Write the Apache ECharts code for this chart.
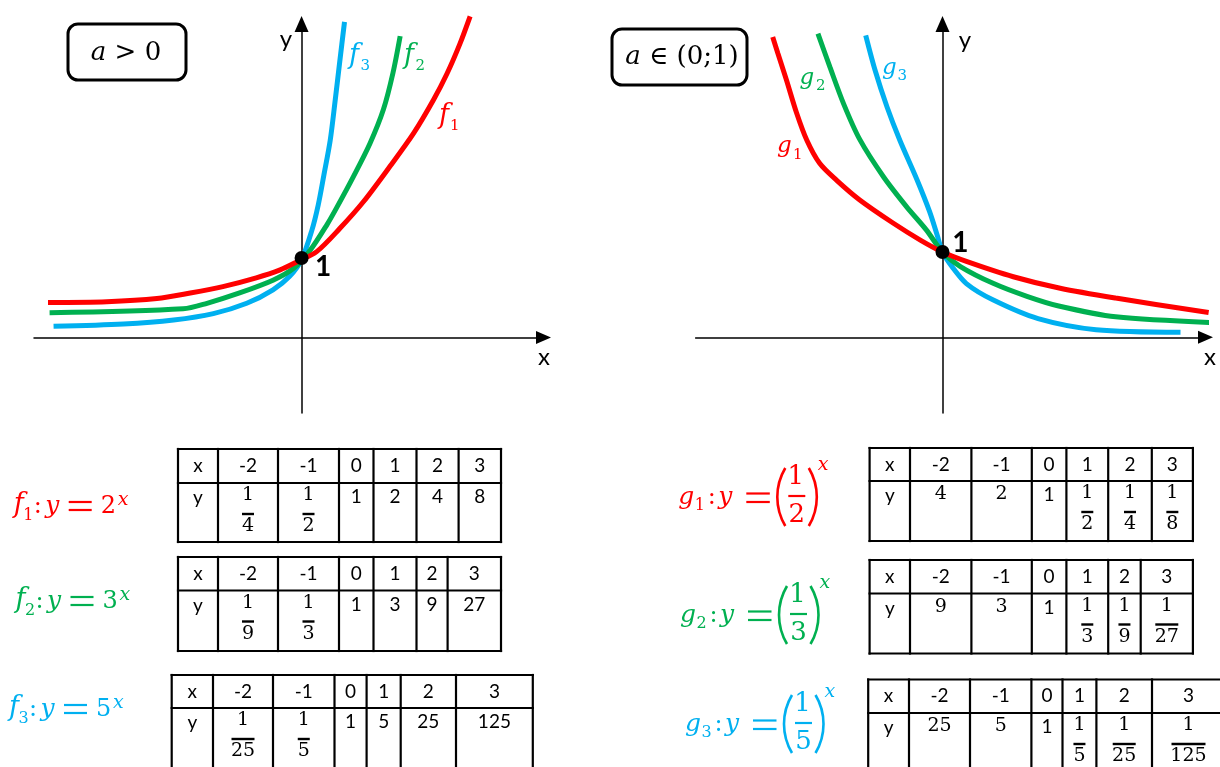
<!DOCTYPE html>
<html>
<head>
<meta charset="utf-8">
<title>Exponential functions</title>
<script src="https://cdn.jsdelivr.net/npm/echarts@6/dist/echarts.min.js"></script>
<style>
  html, body { margin: 0; padding: 0; background: #fff; }
  #main { width: 1220px; height: 767px; }
</style>
</head>
<body>
<div id="main"></div>
<script>
var RED = '#ff0000'
var GREEN = '#00b050'
var BLUE = '#00b0f0'
var MATH = 'DejaVu Serif'

// table values
var xHeader = ['-2', '-1', '0', '1', '2', '3']
var f1Values = ['1/4', '1/2', '1', '2', '4', '8']
var f2Values = ['1/9', '1/3', '1', '3', '9', '27']
var f3Values = ['1/25', '1/5', '1', '5', '25', '125']
var g1Values = ['4', '2', '1', '1/2', '1/4', '1/8']
var g2Values = ['9', '3', '1', '1/3', '1/9', '1/27']
var g3Values = ['25', '5', '1', '1/5', '1/25', '1/125']

// curves as they are drawn (unit = height of the point (0; 1))
var f1Curve = [[-3.19, 0.44], [-2.45, 0.45], [-1.82, 0.49], [-1.40, 0.56], [-0.99, 0.64], [-0.57, 0.75], [-0.27, 0.85], [-0.06, 0.95], [0.19, 1.08], [0.48, 1.37], [0.78, 1.71], [1.11, 2.15], [1.41, 2.57], [1.66, 2.99], [1.83, 3.32], [1.99, 3.69], [2.12, 4.04]]
var f2Curve = [[-3.17, 0.31], [-1.49, 0.36], [-1.19, 0.43], [-0.78, 0.56], [-0.36, 0.72], [-0.10, 0.87], [0.11, 1.10], [0.32, 1.42], [0.44, 1.63], [0.65, 2.02], [0.86, 2.44], [1.03, 2.87], [1.15, 3.33], [1.24, 3.79]]
var f3Curve = [[-3.12, 0.14], [-2.24, 0.17], [-1.61, 0.22], [-1.11, 0.30], [-0.69, 0.43], [-0.36, 0.60], [-0.15, 0.77], [0, 0.98], [0.13, 1.35], [0.21, 1.67], [0.28, 2.04], [0.36, 2.48], [0.42, 2.96], [0.48, 3.47], [0.54, 3.97]]
var g1Curve = [[-1.99, 3.52], [-1.93, 3.33], [-1.83, 3.02], [-1.71, 2.63], [-1.59, 2.31], [-1.44, 2.04], [-1.24, 1.84], [-0.97, 1.61], [-0.58, 1.34], [-0.26, 1.14], [0, 1], [0.28, 0.89], [0.83, 0.71], [1.38, 0.575], [2.03, 0.46], [3.12, 0.29]]
var g2Curve = [[-1.46, 3.56], [-1.32, 3.17], [-1.16, 2.74], [-0.97, 2.32], [-0.69, 1.88], [-0.42, 1.53], [-0.19, 1.26], [0, 1], [0.21, 0.83], [0.60, 0.63], [0.99, 0.48], [1.35, 0.37], [2.03, 0.24], [3.25, 0.17]]
var g3Curve = [[-0.90, 3.54], [-0.79, 3.13], [-0.65, 2.70], [-0.50, 2.31], [-0.30, 1.85], [-0.15, 1.47], [-0.06, 1.19], [0, 1], [0.11, 0.83], [0.28, 0.63], [0.59, 0.44], [1.12, 0.22], [1.80, 0.09], [2.79, 0.06]]
var commonPoint = [[0, 1]]

// where the tables sit on the page
var tableLayout = {
  f1: { cols: [178, 218, 278, 339, 373.5, 416.5, 458.6, 501], rows: [449, 483, 542] },
  f2: { cols: [178, 218, 278, 339, 373.5, 416.5, 447.6, 501], rows: [557, 590.5, 651] },
  f3: { cols: [171.7, 213, 273, 334.5, 366.6, 400.7, 456, 532.8], rows: [675, 708, 775] },
  g1: { cols: [869.6, 910, 971.4, 1031.8, 1066.4, 1108.2, 1151.8, 1192.9], rows: [448, 481, 541] },
  g2: { cols: [869.6, 910, 971.4, 1031.8, 1066.4, 1108.2, 1140.7, 1192.9], rows: [560, 593.5, 653.5] },
  g3: { cols: [868.2, 909, 970, 1031.4, 1062.5, 1096.4, 1152, 1225], rows: [679.5, 713, 775] }
}

function txt (x, y, s, size, o) {
  o = o || {}
  return {
    type: 'text',
    x: x,
    y: y,
    silent: true,
    style: {
      text: s,
      fontSize: size,
      fontFamily: o.family || MATH,
      fontStyle: o.italic ? 'italic' : 'normal',
      fontWeight: o.bold ? 'bold' : 'normal',
      fill: o.color || '#000',
      align: o.align || 'left',
      verticalAlign: 'middle'
    }
  }
}

// y is the baseline
function onBase (x, base, s, size, o) {
  return txt(x, base - 0.36 * size, s, size, o)
}

function seg (x1, y1, x2, y2, w, color, cap) {
  return {
    type: 'line',
    silent: true,
    shape: { x1: x1, y1: y1, x2: x2, y2: y2 },
    style: { stroke: color || '#000', lineWidth: w || 2, lineCap: cap || 'square' }
  }
}

function paren (xMid, cy, h, sag, side, color) {
  var r = ((h / 2) * (h / 2) + sag * sag) / (2 * sag)
  var a = Math.asin(h / 2 / r)
  var left = side === 'left'
  return {
    type: 'arc',
    silent: true,
    shape: {
      cx: left ? xMid + r : xMid - r,
      cy: cy,
      r: r,
      startAngle: left ? Math.PI - a : -a,
      endAngle: left ? Math.PI + a : a,
      clockwise: true
    },
    style: { stroke: color, lineWidth: 2.6, fill: null }
  }
}

function fFormula (x0, b, idx, digit, color) {
  var it = { italic: true, color: color }
  var up = { color: color }
  return [
    onBase(x0 + 2, b, 'f', 27, it),
    onBase(x0 + 11.5, b + 6.5, idx, 16, up),
    onBase(x0 + 22, b, ':', 24, up),
    onBase(x0 + 33.5, b, 'y', 25, it),
    seg(x0 + 57, b - 13, x0 + 80, b - 13, 2.2, color, 'butt'),
    seg(x0 + 57, b - 5, x0 + 80, b - 5, 2.2, color, 'butt'),
    onBase(x0 + 89, b, digit, 24, up),
    onBase(x0 + 106, b - 8.5, 'x', 19, it)
  ]
}

function gFormula (x0, B, idx, den, color) {
  var it = { italic: true, color: color }
  var up = { color: color }
  var b = B + 10
  return [
    onBase(x0, b, 'g', 25, it),
    onBase(x0 + 16.5, b + 5.5, idx, 16, up),
    onBase(x0 + 29.5, b, ':', 24, up),
    onBase(x0 + 40, b, 'y', 25, it),
    seg(x0 + 68, b - 12.5, x0 + 91.5, b - 12.5, 2.2, color, 'butt'),
    seg(x0 + 68, b - 4, x0 + 91.5, b - 4, 2.2, color, 'butt'),
    paren(x0 + 99, B + 1, 58, 8, 'left', color),
    txt(x0 + 117.5, B - 18.5, '1', 26, { align: 'center', color: color }),
    seg(x0 + 110, B, x0 + 127, B, 2.2, color, 'butt'),
    txt(x0 + 118.5, B + 19, den, 26, { align: 'center', color: color }),
    paren(x0 + 138.5, B + 1, 58, 8, 'right', color),
    onBase(x0 + 139.5, B - 24.5, 'x', 19, it)
  ]
}

function curveLabel (x, b, letter, idx, color, subDx, size) {
  return [
    onBase(x, b, letter, size, { italic: true, color: color }),
    onBase(x + subDx, b + 6, idx, 15, { color: color })
  ]
}

function tableGraphics (layout, values, serifInts) {
  var cols = layout.cols
  var rows = layout.rows
  var els = []
  var sans = { family: 'Lato', align: 'center' }
  var serif = { family: MATH, align: 'center' }
  cols.forEach(function (cx) {
    els.push(seg(cx, rows[0], cx, rows[2], 2.2))
  })
  rows.forEach(function (ry) {
    els.push(seg(cols[0], ry, cols[cols.length - 1], ry, 2.2))
  })
  var head = (rows[0] + rows[1]) / 2
  var top = rows[1]
  els.push(txt((cols[0] + cols[1]) / 2, head, 'x', 19, sans))
  xHeader.forEach(function (h, i) {
    els.push(txt((cols[i + 1] + cols[i + 2]) / 2, head, h, 19, sans))
  })
  els.push(txt((cols[0] + cols[1]) / 2, top + 15, 'y', 19, sans))
  values.forEach(function (v, i) {
    var cx = (cols[i + 1] + cols[i + 2]) / 2
    if (v.indexOf('/') > 0) {
      var p = v.split('/')
      var w = p[1].length * 11 + 1
      els.push(txt(cx, top + 12.5, p[0], 19, serif))
      els.push(seg(cx - w / 2, top + 31, cx + w / 2, top + 31, 2.4, '#000', 'butt'))
      els.push(txt(cx, top + 43.5, p[1], 19, serif))
    } else if (serifInts && v !== '1') {
      els.push(txt(cx, top + 13.5, v, 19, serif))
    } else {
      els.push(txt(cx, top + 14, v, 19, sans))
    }
  })
  return els
}

var elements = []
// boxes
elements.push({ type: 'rect', silent: true, shape: { x: 68, y: 24, width: 118, height: 56, r: 10 }, style: { fill: 'transparent', stroke: '#000', lineWidth: 3 } })
elements.push({ type: 'rect', silent: true, shape: { x: 612, y: 29, width: 135, height: 56, r: 10 }, style: { fill: 'transparent', stroke: '#000', lineWidth: 3 } })
elements.push({
  type: 'text', x: 126, y: 53, silent: true,
  style: { text: '{i|a} > 0', fontSize: 26, fontFamily: MATH, fill: '#000', align: 'center', verticalAlign: 'middle', rich: { i: { fontSize: 26, fontFamily: MATH, fontStyle: 'italic' } } }
})
elements.push({
  type: 'text', x: 682, y: 57, silent: true,
  style: { text: '{i|a} ∈ (0;1)', fontSize: 26, fontFamily: MATH, fill: '#000', align: 'center', verticalAlign: 'middle', rich: { i: { fontSize: 26, fontFamily: MATH, fontStyle: 'italic' } } }
})
// axis names
elements.push(txt(286, 39, 'y', 24, { family: 'Lato', align: 'center' }))
elements.push(txt(544, 357, 'x', 24, { family: 'Lato', align: 'center' }))
elements.push(txt(965, 40, 'y', 24, { family: 'Lato', align: 'center' }))
elements.push(txt(1210, 357, 'x', 24, { family: 'Lato', align: 'center' }))
// curve names
elements = elements.concat(
  curveLabel(349, 65.5, 'f', '3', BLUE, 11.5, 27),
  curveLabel(404, 65.5, 'f', '2', GREEN, 11.5, 27),
  curveLabel(439, 125.5, 'f', '1', RED, 11, 27),
  curveLabel(799.5, 86, 'g', '2', GREEN, 16.5, 23),
  curveLabel(882, 76, 'g', '3', BLUE, 15.5, 23),
  curveLabel(777, 154.5, 'g', '1', RED, 16, 23)
)
// formulas
elements = elements.concat(
  fFormula(11.7, 515, '1', '2', RED),
  fFormula(13.5, 610, '2', '3', GREEN),
  fFormula(7, 718, '3', '5', BLUE),
  gFormula(678.3, 496, '1', '2', RED),
  gFormula(680, 614, '2', '3', GREEN),
  gFormula(685, 723, '3', '5', BLUE)
)
// tables
elements = elements.concat(
  tableGraphics(tableLayout.f1, f1Values, false),
  tableGraphics(tableLayout.f2, f2Values, false),
  tableGraphics(tableLayout.f3, f3Values, false),
  tableGraphics(tableLayout.g1, g1Values, true),
  tableGraphics(tableLayout.g2, g2Values, true),
  tableGraphics(tableLayout.g3, g3Values, true)
)

function axisX (min, max, gridIndex) {
  return {
    type: 'value',
    gridIndex: gridIndex,
    min: min,
    max: max,
    axisLine: { show: true, onZero: true, symbol: ['none', 'triangle'], symbolSize: [13, 15], lineStyle: { color: '#000', width: 1.5 } },
    axisTick: { show: false },
    axisLabel: { show: false },
    splitLine: { show: false }
  }
}

function axisY (min, max, gridIndex) {
  return {
    type: 'value',
    gridIndex: gridIndex,
    min: min,
    max: max,
    axisLine: { show: true, onZero: true, symbol: ['none', 'triangle'], symbolSize: [14, 16], lineStyle: { color: '#000', width: 1.5 } },
    axisTick: { show: false },
    axisLabel: { show: false },
    splitLine: { show: false }
  }
}

function curve (data, color, idx) {
  return {
    type: 'line',
    xAxisIndex: idx,
    yAxisIndex: idx,
    data: data,
    smooth: 0.3,
    symbol: 'none',
    clip: false,
    silent: true,
    lineStyle: { width: 5, color: color }
  }
}

function dot (idx, offset) {
  return {
    type: 'scatter',
    xAxisIndex: idx,
    yAxisIndex: idx,
    data: commonPoint,
    symbolSize: 14,
    z: 5,
    silent: true,
    itemStyle: { color: '#000', opacity: 1 },
    label: {
      show: true,
      formatter: '1',
      position: 'inside',
      offset: offset,
      color: '#000',
      fontSize: 28,
      fontWeight: 'bold',
      fontFamily: 'Lato'
    }
  }
}

var myChart = echarts.init(document.getElementById('main'))
var option = {
  animation: false,
  backgroundColor: '#fff',
  textStyle: { fontFamily: 'Lato' },
  grid: [
    { left: 34, top: 24, width: 509.5, height: 389, containLabel: false, outerBoundsMode: 'none' },
    { left: 695.6, top: 24, width: 509.9, height: 389, containLabel: false, outerBoundsMode: 'none' }
  ],
  xAxis: [axisX(-3.366, 3.043, 0), axisX(-2.894, 3.083, 1)],
  yAxis: [axisY(-0.950, 3.943, 0), axisY(-0.887, 3.673, 1)],
  series: [
    curve(f3Curve, BLUE, 0),
    curve(f2Curve, GREEN, 0),
    curve(f1Curve, RED, 0),
    dot(0, [21.5, 9]),
    curve(g3Curve, BLUE, 1),
    curve(g2Curve, GREEN, 1),
    curve(g1Curve, RED, 1),
    dot(1, [18, -9.5])
  ],
  graphic: { elements: elements }
}
myChart.setOption(option)
</script>
</body>
</html>
